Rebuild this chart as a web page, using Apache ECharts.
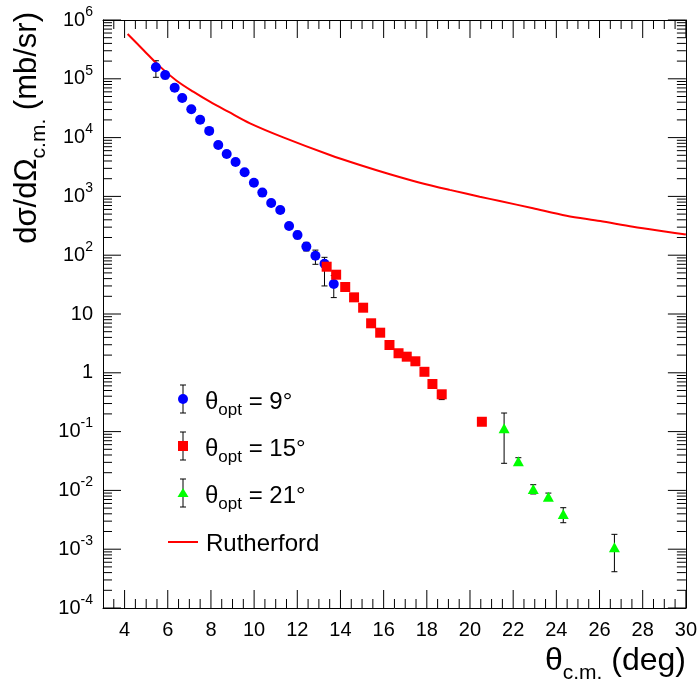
<!DOCTYPE html>
<html>
<head>
<meta charset="utf-8">
<script src="https://cdn.jsdelivr.net/npm/echarts@6/dist/echarts.min.js"></script>
<style>
  html, body { margin: 0; background: #fff; }
  #chart { width: 700px; height: 684px; }
</style>
</head>
<body>
<div id="chart"></div>
<script>
// theta_opt = 9 deg
const thetaBlue = [5.45, 5.88, 6.32, 6.67, 7.09, 7.50, 7.92, 8.34, 8.73, 9.14, 9.56, 9.99, 10.38, 10.79, 11.21, 11.62, 12.01, 12.42, 12.84, 13.26, 13.69]
const xsecBlue = [1.57e5, 1.16e5, 7.06e4, 4.71e4, 3.03e4, 2.01e4, 1.30e4, 7.48e3, 5.26e3, 3.85e3, 2.57e3, 1.71e3, 1.16e3, 772, 587, 314, 221, 140, 98, 71.6, 32.4]
const loBlue = [1.06e5, 1.0e5, 6.2e4, 4.15e4, 2.67e4, 1.77e4, 1.14e4, 6.6e3, 4.6e3, 3.4e3, 2.26e3, 1.5e3, 1.02e3, 680, 515, 275, 190, 118, 70, 30, 19]
const hiBlue = [2.03e5, 1.33e5, 7.9e4, 5.3e4, 3.4e4, 2.25e4, 1.46e4, 8.4e3, 5.9e3, 4.3e3, 2.88e3, 1.92e3, 1.3e3, 865, 660, 352, 255, 165, 122, 92, 45]

// theta_opt = 15 deg
const thetaRed = [13.36, 13.80, 14.22, 14.63, 15.05, 15.42, 15.84, 16.27, 16.69, 17.07, 17.47, 17.89, 18.26, 18.69, 20.55]
const xsecRed = [63.7, 46.6, 28.8, 19.2, 12.8, 6.95, 4.81, 2.97, 2.15, 1.88, 1.57, 1.04, 0.645, 0.431, 0.147]
const loRed = [56, 41, 25.3, 16.9, 11.3, 6.1, 4.2, 2.6, 1.9, 1.65, 1.38, 0.92, 0.57, 0.35, 0.13]
const hiRed = [71, 52, 32.3, 21.5, 14.3, 7.8, 5.4, 3.3, 2.4, 2.1, 1.76, 1.16, 0.72, 0.5, 0.165]

// theta_opt = 21 deg
const thetaGreen = [21.58, 22.24, 22.93, 23.63, 24.32, 26.69]
const xsecGreen = [0.114, 0.0313, 0.0106, 0.0078, 0.00397, 0.00108]
const loGreen = [0.0289, 0.027, 0.0087, 0.0068, 0.00282, 0.000414]
const hiGreen = [0.207, 0.036, 0.0125, 0.009, 0.00508, 0.00179]

// Rutherford
const thetaRuth = [4.14, 4.87, 5.64, 6.41, 7.18, 7.95, 8.80, 9.81, 11.35, 13.51, 14.90, 16.29, 17.68, 19.06, 20.45, 21.38, 22.92, 24.47, 26.03, 27.55, 29.10, 30.0]
const xsecRuth = [5.78e5, 3.09e5, 1.61e5, 9.29e4, 6.04e4, 4.08e4, 2.76e4, 1.75e4, 1.01e4, 5.06e3, 3.42e3, 2.38e3, 1.71e3, 1.29e3, 989, 835, 628, 470, 382, 305, 251, 225]

const xTicks = [4, 6, 8, 10, 12, 14, 16, 18, 20, 22, 24, 26, 28, 30]
const yDecades = [1e-4, 1e-3, 1e-2, 1e-1, 1, 10, 1e2, 1e3, 1e4, 1e5, 1e6]

const FONT = '"Liberation Sans", Arial, sans-serif'

// tick marks (ROOT style: inside, on all four sides)
const xTickMarks = []
for (let v = 3.5; v < 30; v += 0.5) {
  xTickMarks.push([v, 1, v % 2 === 0 ? 18 : 9])
}
xTickMarks.push([30, 1, 18])
const yTickMarks = []
for (let e = -4; e < 6; e++) {
  yTickMarks.push([4, Math.pow(10, e), 18])
  for (let k = 2; k <= 9; k++) yTickMarks.push([4, k * Math.pow(10, e), 9])
}
yTickMarks.push([4, 1e6, 18])

const chart = echarts.init(document.getElementById('chart'))

function zip(x, y) {
  return x.map((v, i) => [v, y[i]])
}
function zipErr(x, lo, hi) {
  return x.map((v, i) => [v, lo[i], hi[i]])
}

function yLabel(v) {
  const e = Math.round(Math.log10(v))
  if (e === 0) return '{b|1}'
  if (e === 1) return '{b|10}'
  return '{b|10}{s|' + e + '}'
}

function tickSeries(data, horizontal) {
  return {
    type: 'custom', data: data, encode: { x: 0, y: 1 }, z: 4, silent: true,
    renderItem: function (params, api) {
      const cs = params.coordSys
      const len = api.value(2)
      const st = { stroke: '#000', lineWidth: 1 }
      let a, b
      if (horizontal) {
        const px = api.coord([api.value(0), 1])[0]
        a = { x1: px, y1: cs.y + cs.height, x2: px, y2: cs.y + cs.height - len }
        b = { x1: px, y1: cs.y, x2: px, y2: cs.y + len }
      } else {
        const py = api.coord([4, api.value(1)])[1]
        a = { x1: cs.x, y1: py, x2: cs.x + len, y2: py }
        b = { x1: cs.x + cs.width, y1: py, x2: cs.x + cs.width - len, y2: py }
      }
      return {
        type: 'group',
        children: [
          { type: 'line', shape: a, style: st },
          { type: 'line', shape: b, style: st }
        ]
      }
    }
  }
}

function errorBars(data) {
  return {
    type: 'custom',
    data: data,
    encode: { x: 0, y: [1, 2] },
    z: 1,
    silent: true,
    renderItem: function (params, api) {
      const x = api.value(0)
      const top = api.coord([x, api.value(2)])
      const bot = api.coord([x, api.value(1)])
      const st = { stroke: '#000', lineWidth: 1 }
      return {
        type: 'group',
        children: [
          { type: 'line', shape: { x1: top[0], y1: top[1], x2: bot[0], y2: bot[1] }, style: st },
          { type: 'line', shape: { x1: top[0] - 3, y1: top[1], x2: top[0] + 3, y2: top[1] }, style: st },
          { type: 'line', shape: { x1: bot[0] - 3, y1: bot[1], x2: bot[0] + 3, y2: bot[1] }, style: st }
        ]
      }
    }
  }
}

function points(name, data, color, symbol, size) {
  return {
    name: name, type: 'scatter', data: data, z: 3,
    symbol: symbol, symbolSize: size,
    itemStyle: { color: color, opacity: 1 },
    silent: true
  }
}

// legend entries drawn as graphics
function legendEntry(y, symbolShape, color, label) {
  const st = { stroke: '#000', lineWidth: 1 }
  return [
    { type: 'line', shape: { x1: 183, y1: y - 14, x2: 183, y2: y + 14 }, style: st },
    { type: 'line', shape: { x1: 180, y1: y - 14, x2: 186, y2: y - 14 }, style: st },
    { type: 'line', shape: { x1: 180, y1: y + 14, x2: 186, y2: y + 14 }, style: st },
    Object.assign(symbolShape, { style: { fill: color } }),
    {
      type: 'text', x: 205, y: y + 3,
      style: {
        text: '{b|θ}{s|opt}{b| = ' + label + '}', verticalAlign: 'middle',
        rich: {
          b: { fontSize: 24, fontFamily: FONT, fill: '#000', lineHeight: 34, verticalAlign: 'middle' },
          s: { fontSize: 17, fontFamily: FONT, fill: '#000', lineHeight: 34, verticalAlign: 'bottom' }
        }
      }
    }
  ]
}

const graphics = [].concat(
  legendEntry(399, { type: 'circle', shape: { cx: 183, cy: 399, r: 5 } }, '#0000ff', '9°'),
  legendEntry(446, { type: 'rect', shape: { x: 178, y: 441, width: 10, height: 10 } }, '#ff0000', '15°'),
  legendEntry(493, { type: 'polygon', shape: { points: [[183, 488], [188.5, 497], [177.5, 497]] } }, '#00ff00', '21°'),
  [
    { type: 'line', shape: { x1: 168, y1: 542, x2: 198, y2: 542 }, style: { stroke: '#ff0000', lineWidth: 2 } },
    { type: 'text', x: 206, y: 544, style: { text: 'Rutherford', fontSize: 24, fontFamily: FONT, fill: '#000', verticalAlign: 'middle' } },
    {
      type: 'text', x: 686, y: 661,
      style: {
        text: '{b|θ}{s|c.m.}{b| (deg)}', align: 'right', verticalAlign: 'middle',
        rich: {
          b: { fontSize: 32, fontFamily: FONT, fill: '#000', lineHeight: 46, verticalAlign: 'middle' },
          s: { fontSize: 21, fontFamily: FONT, fill: '#000', lineHeight: 46, verticalAlign: 'bottom' }
        }
      }
    },
    {
      type: 'text', x: 27, y: 12, rotation: Math.PI / 2,
      style: {
        text: '{b|dσ/dΩ}{s|c.m.}{b| (mb/sr)}', align: 'right', verticalAlign: 'middle',
        rich: {
          b: { fontSize: 31, fontFamily: FONT, fill: '#000', lineHeight: 46, verticalAlign: 'middle' },
          s: { fontSize: 21, fontFamily: FONT, fill: '#000', lineHeight: 46, verticalAlign: 'bottom' }
        }
      }
    }
  ]
)

const frameLine = { show: true, onZero: false, lineStyle: { color: '#000', width: 1 } }

chart.setOption({
  animation: false,
  grid: { left: 103, right: 14, top: 20, bottom: 76 },
  xAxis: [
    {
      type: 'value', min: 3, max: 30, position: 'bottom',
      axisLine: frameLine, axisTick: { show: false }, splitLine: { show: false },
      axisLabel: { customValues: xTicks, fontSize: 20, color: '#000', margin: 12, fontFamily: FONT }
    },
    {
      type: 'value', min: 3, max: 30, position: 'top',
      axisLine: frameLine, axisTick: { show: false }, splitLine: { show: false }, axisLabel: { show: false }
    }
  ],
  yAxis: [
    {
      type: 'log', min: 1e-4, max: 1e6, position: 'left',
      axisLine: frameLine, axisTick: { show: false }, splitLine: { show: false },
      axisLabel: {
        customValues: yDecades, margin: 10, formatter: yLabel,
        rich: {
          b: { fontSize: 20, color: '#000', fontFamily: FONT, lineHeight: 30, verticalAlign: 'middle' },
          s: { fontSize: 14, color: '#000', fontFamily: FONT, lineHeight: 30, verticalAlign: 'top' }
        }
      }
    },
    {
      type: 'log', min: 1e-4, max: 1e6, position: 'right',
      axisLine: frameLine, axisTick: { show: false }, splitLine: { show: false }, axisLabel: { show: false }
    }
  ],
  series: [
    tickSeries(xTickMarks, true),
    tickSeries(yTickMarks, false),
    {
      name: 'Rutherford', type: 'line', data: zip(thetaRuth, xsecRuth),
      showSymbol: false, smooth: 0.3, z: 2, silent: true,
      lineStyle: { color: '#ff0000', width: 2 }
    },
    errorBars(zipErr(thetaBlue, loBlue, hiBlue)),
    errorBars(zipErr(thetaRed, loRed, hiRed)),
    errorBars(zipErr(thetaGreen, loGreen, hiGreen)),
    points('θopt = 9°', zip(thetaBlue, xsecBlue), '#0000ff', 'circle', 10),
    points('θopt = 15°', zip(thetaRed, xsecRed), '#ff0000', 'rect', 10),
    points('θopt = 21°', zip(thetaGreen, xsecGreen), '#00ff00', 'triangle', [11, 10])
  ]
})
chart.setOption({ graphic: graphics })
</script>
</body>
</html>
